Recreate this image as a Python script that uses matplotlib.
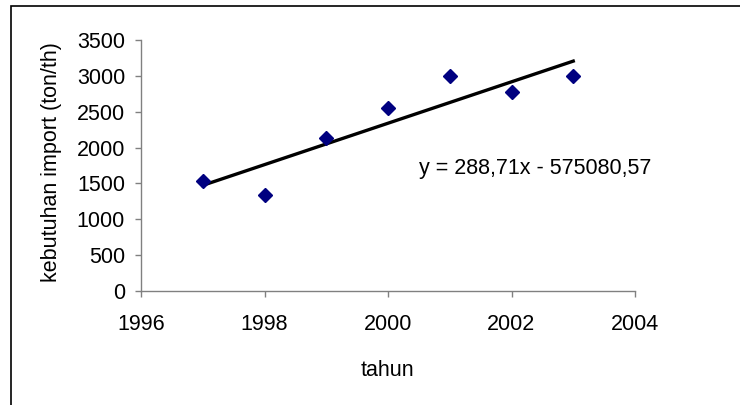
import matplotlib
matplotlib.use('Agg')
import matplotlib.pyplot as plt
from matplotlib.patches import Rectangle

plt.rcParams['font.family'] = ['Liberation Sans', 'DejaVu Sans']

# data
tahun = [1997, 1998, 1999, 2000, 2001, 2002, 2003]
kebutuhan = [1540, 1340, 2130, 2550, 3000, 2780, 3000]

# trendline from the equation shown
slope = 288.71
intercept = -575080.57
trend_x = [tahun[0], tahun[-1]]
trend_y = [slope * x + intercept for x in trend_x]

fs = 15.5

fig = plt.figure(figsize=(7.4, 4.05), dpi=100)

# outer chart frame (runs off the right and bottom edges)
fig.patches.append(Rectangle((11 / 740, -0.1), 1.0, 1 - 6 / 405 + 0.1,
                             transform=fig.transFigure, fill=False,
                             edgecolor='black', linewidth=1.2))

ax = fig.add_axes([141 / 740, 1 - 291 / 405, 494 / 740, 251 / 405])

ax.plot(trend_x, trend_y, color='black', linewidth=2.4, zorder=2)
ax.plot(tahun, kebutuhan, linestyle='none', marker='D', markersize=7,
        color='#000080', zorder=3)

ax.set_xlim(1996, 2004)
ax.set_ylim(0, 3500)
ax.set_xticks([1996, 1998, 2000, 2002, 2004])
ax.set_yticks(range(0, 3501, 500))

for s in ['top', 'right']:
    ax.spines[s].set_visible(False)
for s in ['left', 'bottom']:
    ax.spines[s].set_color('#808080')
    ax.spines[s].set_linewidth(1.0)
ax.tick_params(colors='#808080', length=4.5, width=1.0, labelcolor='black',
               labelsize=fs)
ax.tick_params(axis='x', pad=12)
ax.tick_params(axis='y', pad=7)

fig.text(52 / 740, 1 - 162 / 405, 'kebutuhan import (ton/th)', rotation=90,
         ha='center', va='center', fontsize=fs)
fig.text(387 / 740, 1 - 371 / 405, 'tahun', ha='center', va='center',
         fontsize=fs)

ax.text(2000.5, 1715, 'y = 288,71x - 575080,57', fontsize=fs, va='center')

fig.savefig('out.png', dpi=100)
